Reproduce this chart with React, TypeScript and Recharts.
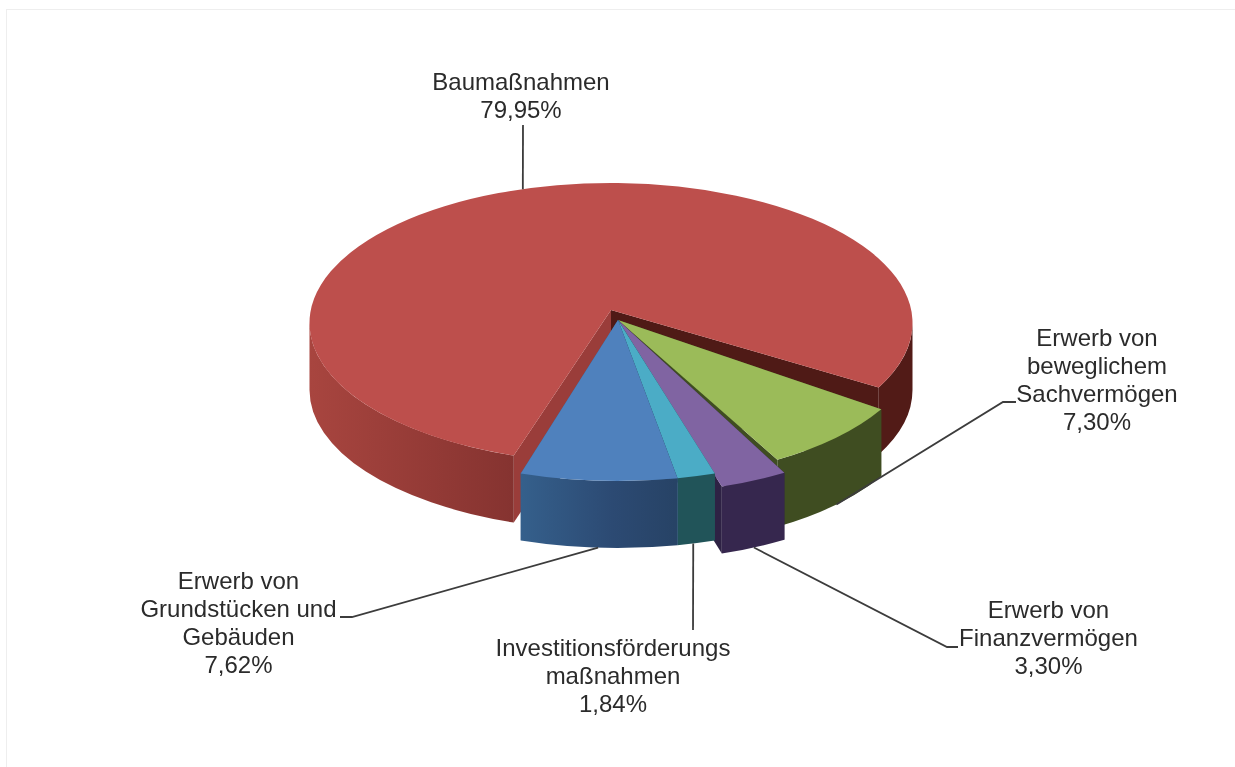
import { Pie, PieChart } from "recharts";

const CATEGORIES = [
  "Baumaßnahmen",
  "Erwerb von beweglichem Sachvermögen",
  "Erwerb von Finanzvermögen",
  "Investitionsförderungs maßnahmen",
  "Erwerb von Grundstücken und Gebäuden",
];
const VALUES = [79.95, 7.3, 3.3, 1.84, 7.62];
const LABEL_LINES = [
  ["Baumaßnahmen"],
  ["Erwerb von", "beweglichem", "Sachvermögen"],
  ["Erwerb von", "Finanzvermögen"],
  ["Investitionsförderungs", "maßnahmen"],
  ["Erwerb von", "Grundstücken und", "Gebäuden"],
];

const chartData = CATEGORIES.map((name, i) => ({ name, value: VALUES[i] }));

const WIDTH = 1235;
const HEIGHT = 767;
const TILT = 0.4643;
const DEPTH = 67;

// explode offset of each slice, and where its tip sits relative to the ellipse centre
const SLICES = [
  { dx: 0, dy: 0, tipX: 0, lift: 13, trimEnd: 1.8, top: "#bd4f4c", cutStart: "#9a3d3a", cutEnd: "#4f1a16",
    wall: [[0, "#a8453f"], [0.34, "#853330"], [0.34, "#521b17"], [1, "#521b17"]] },
  { dx: 7, dy: 18, tipX: 0, lift: 21, trimEnd: 0, top: "#9bbb59", cutStart: "#3f4d21", cutEnd: "#3f4d21",
    wall: [[0, "#3f4d21"], [1, "#3f4d21"]] },
  { dx: 14, dy: 31, tipX: -7, lift: 34, trimEnd: 0, top: "#8064a2", cutStart: "#2e2244", cutEnd: "#2e2244",
    wall: [[0, "#36274e"], [1, "#36274e"]] },
  { dx: 7, dy: 18, tipX: 0, lift: 21, trimEnd: 0, top: "#4bacc6", cutStart: "#215459", cutEnd: "#215459",
    wall: [[0, "#215459"], [1, "#215459"]] },
  { dx: 7, dy: 18, tipX: 0, lift: 21, trimEnd: 0, top: "#4f81bd", cutStart: "#35608c", cutEnd: "#35608c",
    wall: [[0, "#35608c"], [0.336, "#35608c"], [0.49, "#2c4a73"], [0.595, "#274366"], [1, "#274366"]] },
];

// where each leader runs once it leaves the slice, and where its text is centred
const LEADERS = [
  { shift: 4, points: [[523, 125]], x: 521, y: 90 },
  { shift: 0, points: [[1003, 402], [1016, 402]], x: 1097, y: 346 },
  { shift: 0, points: [[947, 647], [958, 647]], x: 1048.5, y: 618 },
  { shift: 0.6, points: [[693, 630]], x: 613, y: 656 },
  { shift: 0, points: [[352, 617], [340, 617]], x: 238.5, y: 589 },
];
const LINE_HEIGHT = 28;

const rad = (deg: number) => (deg * Math.PI) / 180;

// front slices look wider than the back ones in the perspective view
const warp = (t: number) => t + 6.3 * Math.sin(rad(t - 69));

function geometry(props: any, i: number) {
  const s = SLICES[i];
  const rx = props.outerRadius;
  const ry = rx * TILT;
  const cx = props.cx + s.dx;
  const cy = props.cy + s.dy;
  const at = (t: number) => [
    cx + rx * Math.cos(rad(t)),
    cy + ry * Math.sin(rad(t)),
  ];
  return { s, rx, ry, cx, cy, at, apex: [cx + s.tipX, cy - s.lift] };
}

function Slice3D(props: any) {
  const i = CATEGORIES.indexOf(props.name);
  const { s, rx, ry, cx, at, apex } = geometry(props, i);
  const t1 = warp(-props.startAngle);
  const t2 = warp(-props.endAngle) - s.trimEnd;
  const p1 = at(t1);
  const p2 = at(t2);
  const arc = (to: number[], large: boolean, sweep: number) =>
    `A${rx} ${ry} 0 ${large ? 1 : 0} ${sweep} ${to[0]} ${to[1]}`;
  const top = `M${apex[0]} ${apex[1]}L${p1[0]} ${p1[1]}${arc(p2, t2 - t1 > 180, 1)}Z`;
  const cut = (p: number[]) =>
    `M${apex[0]} ${apex[1]}L${p[0]} ${p[1]}L${p[0]} ${p[1] + DEPTH}L${apex[0]} ${apex[1] + DEPTH}Z`;

  // only the part of the rim facing the viewer gets a wall
  const walls: string[] = [];
  [[0, 180], [360, 540]].forEach(([lo, hi]) => {
    const a = Math.max(t1, lo);
    const b = Math.min(t2, hi);
    if (b <= a) return;
    const pa = at(a);
    const pb = at(b);
    const low = (p: number[]) => [p[0], p[1] + DEPTH];
    walls.push(
      `M${pa[0]} ${pa[1]}${arc(pb, false, 1)}L${pb[0]} ${pb[1] + DEPTH}${arc(low(pa), false, 0)}Z`
    );
  });

  const gradientId = `wall-${i}`;
  return (
    <g>
      <defs>
        <linearGradient
          id={gradientId}
          gradientUnits="userSpaceOnUse"
          x1={cx - rx}
          x2={cx + rx}
          y1={0}
          y2={0}
        >
          {s.wall.map(([offset, color], k) => (
            <stop key={k} offset={offset} stopColor={color as string} />
          ))}
        </linearGradient>
      </defs>
      <path d={cut(p2)} fill={s.cutEnd} />
      <path d={cut(p1)} fill={s.cutStart} />
      {walls.map((d, k) => (
        <path key={k} d={d} fill={`url(#${gradientId})`} />
      ))}
      <path d={top} fill={s.top} />
    </g>
  );
}

function SliceLabel(props: any) {
  const i = CATEGORIES.indexOf(props.name);
  const leader = LEADERS[i];
  const { at } = geometry(props, i);
  const t = warp(-props.midAngle) + leader.shift;
  const p = at(t);
  // front slices are hit at the bottom of their wall, the big one on its top rim
  const start = [p[0], Math.sin(rad(t)) > 0 ? p[1] + DEPTH : p[1]];
  const points = [start, ...leader.points].map((q) => q.join(",")).join(" ");
  const lines = [
    ...LABEL_LINES[i],
    `${VALUES[i].toFixed(2).replace(".", ",")}%`,
  ];
  return (
    <g>
      <polyline points={points} fill="none" stroke="#3c3c3c" strokeWidth={1.8} />
      <text
        textAnchor="middle"
        fontFamily="'Liberation Sans', Arial, sans-serif"
        fontSize={24}
        fill="#2b2b2b"
      >
        {lines.map((line, k) => (
          <tspan key={k} x={leader.x} y={leader.y + k * LINE_HEIGHT}>
            {line}
          </tspan>
        ))}
      </text>
    </g>
  );
}

export default function App() {
  return (
    <div
      style={{
        position: "absolute",
        left: 0,
        top: 0,
        width: WIDTH,
        height: HEIGHT,
        background: "#fff",
        overflow: "hidden",
        filter: "blur(0.5px)",
      }}
    >
      <div
        style={{
          position: "absolute",
          left: 6,
          top: 9,
          right: 0,
          bottom: 0,
          borderLeft: "1px solid #eeeeee",
          borderTop: "1px solid #eeeeee",
        }}
      />
      <PieChart
        width={WIDTH}
        height={HEIGHT}
        margin={{ top: 0, right: 0, bottom: 0, left: 0 }}
        style={{ position: "absolute", left: 0, top: 0 }}
      >
        <Pie
          data={chartData}
          dataKey="value"
          nameKey="name"
          cx={611}
          cy={323}
          innerRadius={0}
          outerRadius={301.5}
          startAngle={-105.1}
          endAngle={-465.1}
          stroke="none"
          shape={Slice3D}
          label={SliceLabel}
          labelLine={false}
          isAnimationActive={false}
        />
      </PieChart>
    </div>
  );
}
